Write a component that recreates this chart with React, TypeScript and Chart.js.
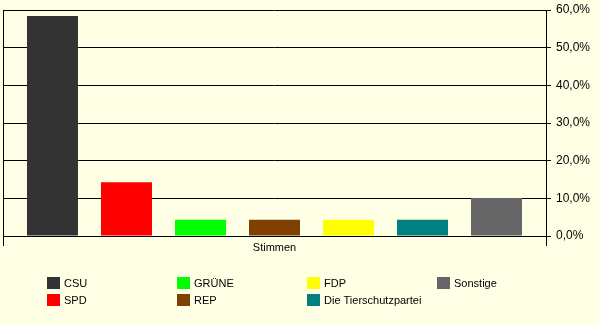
import React, { useEffect, useRef } from "react";
import { Chart, registerables } from "chart.js";

Chart.register(...registerables);

const categories = ["Stimmen"];
const parties = ["CSU", "SPD", "GRÜNE", "REP", "FDP", "Die Tierschutzpartei", "Sonstige"];
const shares = [58.4, 14.3, 4.3, 4.3, 4.3, 4.3, 10.1];
const colors = ["#333333", "#FF0000", "#00FF00", "#804000", "#FFFF00", "#008080", "#666666"];
const yTicks = [0, 10, 20, 30, 40, 50, 60];

const FONT = "'Liberation Sans', Arial, sans-serif";
const BG = "#FFFFE6";

const legendPlugin = {
  id: "gridLegend",
  afterDraw(chart: any) {
    const ctx = chart.ctx;
    ctx.save();
    ctx.font = `11px ${FONT}`;
    ctx.textBaseline = "middle";
    ctx.textAlign = "left";
    const colX = [47, 177, 307, 437];
    const rowY = [277, 294];
    chart.data.datasets.forEach((ds: any, i: number) => {
      const col = Math.floor(i / 2);
      const row = i % 2;
      const x = colX[col];
      const y = rowY[row];
      ctx.fillStyle = ds.backgroundColor;
      ctx.fillRect(x, y, 13, 12);
      ctx.fillStyle = "#000000";
      ctx.fillText(ds.label, x + 17, y + 6.5);
    });
    ctx.restore();
  },
};

export default function App() {
  const ref = useRef<HTMLCanvasElement>(null);
  useEffect(() => {
    document.body.style.margin = "0";
    document.body.style.background = BG;
    const chart = new Chart(ref.current!, {
      type: "bar",
      data: {
        labels: categories,
        datasets: parties.map((p, i) => ({
          label: p,
          data: [shares[i]],
          backgroundColor: colors[i],
          borderWidth: 0,
          categoryPercentage: 0.954,
          barPercentage: 0.689,
        })),
      },
      options: {
        responsive: false,
        animation: false,
        layout: { padding: { left: 3, top: 10, right: 0, bottom: 0 } },
        plugins: { legend: { display: false }, tooltip: { enabled: false } },
        scales: {
          x: {
            grid: { color: "#000000", lineWidth: 1, offset: true, tickLength: 10, drawOnChartArea: true },
            border: { display: true, color: "#000000" },
            ticks: { color: "#000000", font: { family: FONT, size: 11 }, padding: -5 },
            afterFit: (s: any) => { s.height = 90; s.paddingLeft = 0; s.paddingRight = 0; },
          },
          y: {
            position: "right",
            min: 0,
            max: 60,
            afterBuildTicks: (s: any) => { s.ticks = yTicks.map((v) => ({ value: v })); },
            grid: { color: "#000000", lineWidth: 1, tickLength: 5 },
            border: { display: true, color: "#000000" },
            ticks: {
              color: "#000000",
              font: { family: FONT, size: 12 },
              padding: 5,
              callback: (v: any) => Number(v).toFixed(1).replace(".", ",") + "%",
            },
            afterFit: (s: any) => { s.width = 54; s.paddingTop = 0; s.paddingBottom = 0; },
          },
        },
      },
      plugins: [legendPlugin],
    });
    return () => chart.destroy();
  }, []);
  return (
    <div style={{ position: "absolute", left: 0, top: 0, width: 600, height: 326, background: BG }}>
      <canvas ref={ref} width={600} height={326} style={{ display: "block" }} />
    </div>
  );
}
